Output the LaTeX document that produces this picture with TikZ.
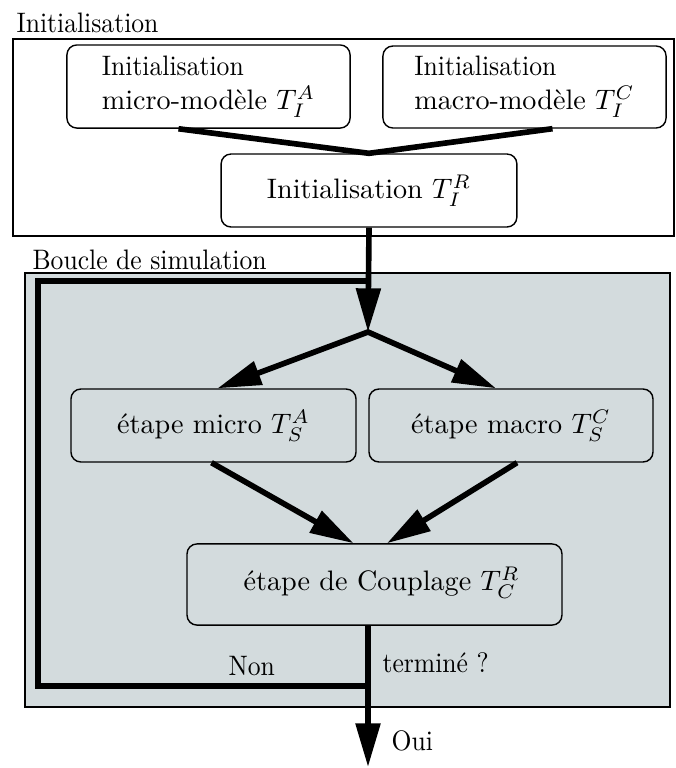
\documentclass[tikz,border=0pt]{standalone}
\usepackage{fontspec}
\newfontfamily\timesfont[FakeStretch=0.91]{lmroman10-regular.otf}
\usetikzlibrary{arrows.meta, calc, positioning}

\definecolor{grisbleu}{RGB}{211,219,221}
\tikzset{
  boite/.style={draw, rounded corners=3.5pt, line width=0.5pt, inner sep=0pt},
  trait/.style={line width=2pt},
  fleche/.style={line width=2pt, -{Triangle[length=15.5pt,width=8.5pt]}},
  titre/.style={font=\timesfont, anchor=base west, inner sep=0pt}
}

\begin{document}
\begin{tikzpicture}[x=0.355pt, y=-0.355pt]
  \useasboundingbox (0,0) rectangle (675,768);

  % Рамки двух частей
  \draw[line width=0.6pt] (13,39) rectangle (674,236);
  \draw[line width=0.6pt, fill=grisbleu] (25,273) rectangle (670,707);
  \node[titre] (titreinit) at (16,32) {Initialisation};
  \node[titre] (titreboucle) at (32,269) {Boucle de simulation};

  % Блоки инициализации
  \node[boite, fill=white, minimum width=100.5pt, minimum height=29.5pt, align=left]
    (initmicro) at (208.5,86.5) {{\timesfont Initialisation}\\micro-modèle $T_I^A$};
  \node[boite, fill=white, minimum width=100.5pt, minimum height=29.1pt, align=left]
    (initmacro) at (524.5,87) {{\timesfont Initialisation}\\macro-modèle $T_I^C$};
  \node[boite, fill=white, minimum width=105pt, minimum height=25.9pt]
    (initR) at (369,190.5) {Initialisation $T_I^R$};

  % Блоки цикла
  \node[boite, fill=grisbleu, minimum width=101.2pt, minimum height=25.9pt]
    (stepmicro) at (213.5,425.5) {étape micro $T_S^A$};
  \node[boite, fill=grisbleu, minimum width=100.8pt, minimum height=25.9pt]
    (stepmacro) at (511,425.5) {étape macro $T_S^C$};
  \node[boite, fill=grisbleu, minimum width=133.1pt, minimum height=28.8pt]
    (couplage) at (374.5,584.5) {\hspace*{5pt}étape de Couplage $T_C^R$\raisebox{0pt}[0pt][4pt]{}};

  % Точки соединения
  \coordinate (jonction) at (368,332);
  \coordinate (retour) at (368,686);
  \coordinate (coinhaut) at (38,281);
  \coordinate (entree) at (368,281);
  \coordinate (sortie) at (368,767);

  % Стрелки
  \draw[trait] ($(initmicro.south)+(-30,0)$) -- (initR.north) -- ($(initmacro.south)+(28,0)$);
  \draw[fleche] (initR.south) -- (jonction);
  \draw[trait, {Triangle[length=15.5pt,width=8.5pt]}-{Triangle[length=15.5pt,width=8.5pt]}]
    ($(stepmicro.north)+(4,0)$) -- (jonction) -- ($(stepmacro.north)+(-15,0)$);
  \draw[fleche] ($(stepmicro.south)+(-2,0)$) -- ($(couplage.north)+(-21,0)$);
  \draw[fleche] ($(stepmacro.south)+(6,0)$) -- ($(couplage.north)+(12.5,0)$);
  \draw[fleche] ($(couplage.south)+(-6.5,0)$) -- (sortie);
  \draw[trait] (retour) -| (coinhaut) -- (entree);

  % Подписи
  \node[titre] (non) at (228,675) {Non};
  \node[titre] (termine) at (382,672) {terminé ?};
  \node[titre] (oui) at (391,750) {Oui};
\end{tikzpicture}
\end{document}
